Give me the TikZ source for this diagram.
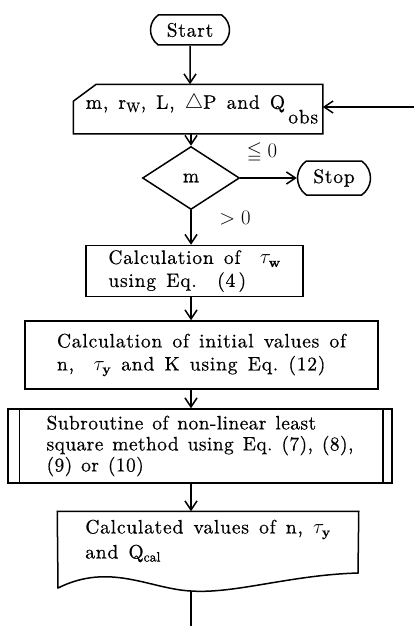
\documentclass[tikz,border=0pt]{standalone}
\usepackage{amssymb}
\usepackage{fontspec}
\setmainfont{lmroman10}[Extension=.otf, UprightFont=*-regular, BoldFont=*-bold, ItalicFont=*-italic, LetterSpace=4, WordSpace=1.4, FakeBold=0.5]
\newfontfamily\subfont{lmroman10}[Extension=.otf, UprightFont=*-regular, BoldFont=*-bold, ItalicFont=*-italic, LetterSpace=2, WordSpace=1.3, FakeBold=0.5]
\usetikzlibrary{shapes.geometric,shapes.misc,arrows.meta}
\tikzset{
  terminal/.style={draw, rounded rectangle, rounded rectangle arc length=110, inner xsep=6pt},
  procbox/.style={draw, align=left, inner sep=0pt},
}
\begin{document}
\begin{tikzpicture}[x=1pt, y=-1pt, >={Straight Barb[length=9pt,width=12pt]}, line width=1.5pt, font=\fontsize{19.5}{23}\selectfont]
  \useasboundingbox (0,0) rectangle (414,626);

  \node[terminal, minimum width=91pt, minimum height=30pt] (start) at (190,30) {Start};
  \node[minimum width=248pt, minimum height=48pt, inner sep=0pt] (inp) at (198,109) {\hspace*{8pt}m, $\mathrm{r_W}$, L, $\triangle$P and Q\,\raisebox{-0.75em}{obs}};
  \node[draw, diamond, minimum width=97pt, minimum height=63pt, inner sep=0pt] (dec) at (191,178) {m};
  \node[terminal, minimum width=85pt, minimum height=34pt] (stop) at (334,178) {Stop};
  \node (le) at (262,153) {$\leqq 0$};
  \node (gt) at (235,218) {$>0$};

  \node[procbox, minimum width=217pt, minimum height=51pt] (calcw) at (194.5,271) {Calculation of\quad$\tau_{\mathbf{w}}$\\using Eq.\ \ (4\,)};
  \node[procbox, minimum width=353pt, minimum height=68pt] (calcini) at (201.5,355) {Calculation of initial values of\\n,\quad$\tau_{\mathbf{y}}$ and K using Eq.\ (12)};
  \node[procbox, minimum width=384pt, minimum height=74pt, font=\subfont\fontsize{19.5}{21}\selectfont] (sub) at (200,446) {Subroutine of non-linear least\\square method using Eq.\ (7), (8),\\(9) or (10)};
  \node[align=left, inner sep=0pt, minimum width=300pt, minimum height=58pt, font=\fontsize{19.5}{25}\selectfont] (res) at (208,541) {Calculated values of n, $\tau_{\mathbf{y}}$\\and Q$_{\mathrm{cal}}$};

  \draw ([xshift=23pt]inp.north west) -- (inp.north east) -- (inp.south east) -- (inp.south west) -- ([yshift=-17pt]inp.north west) -- cycle;
  \draw ([xshift=12pt]sub.north west) -- ([xshift=12pt]sub.south west);
  \draw ([xshift=-10pt]sub.north east) -- ([xshift=-10pt]sub.south east);
  \coordinate (resout) at (191,591);
  \draw (res.north west) -- (res.north east) -- (358,573) .. controls (290,575) and (235,594) .. (resout) .. controls (150,589) and (110,562) .. (58,588) -- cycle;

  \coordinate (back) at (414,107);
  \coordinate (exit) at (191,626);
  \draw[->] (start) -- (start |- inp.north);
  \draw[->] (back) -- (back -| inp.east);
  \draw[->] (inp.south -| dec) -- (dec);
  \draw[->] (dec) -- (stop);
  \draw[->] (dec) -- (dec |- calcw.north);
  \draw[->] (calcw.south -| dec) -- (calcini.north -| dec);
  \draw[->] (calcini.south -| dec) -- (sub.north -| dec);
  \draw[->] (sub.south -| dec) -- (res.north -| dec);
  \draw (resout) -- (exit);
\end{tikzpicture}
\end{document}
